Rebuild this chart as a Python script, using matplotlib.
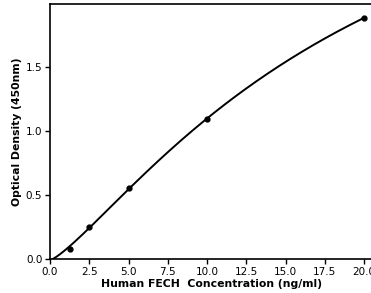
import matplotlib
matplotlib.use("Agg")
import matplotlib.pyplot as plt
import numpy as np

# ---------- Data ----------
concentration = [1.25, 2.5, 5.0, 10.0, 20.0]
od450 = [0.078, 0.25, 0.555, 1.09, 1.885]
# blank well, used in the fit but not drawn
blankConc = 0.0
blankOD = 0.0

xTicks = [0.0, 2.5, 5.0, 7.5, 10.0, 12.5, 15.0, 17.5, 20.0]
yTicks = [0.0, 0.5, 1.0, 1.5]


# ---------- 4PL fit (small Levenberg-Marquardt) ----------
def fourPL(x, p):
    a, b, c, d = p
    return d + (a - d) / (1.0 + (np.abs(x) / c) ** b)


def fit4PL(x, y, p):
    x = np.asarray(x, float)
    y = np.asarray(y, float)
    p = np.asarray(p, float)
    lam = 1e-3
    for _ in range(500):
        r = y - fourPL(x, p)
        J = np.zeros((len(x), len(p)))
        for k in range(len(p)):
            dp = np.zeros_like(p)
            dp[k] = 1e-6 * max(1.0, abs(p[k]))
            J[:, k] = (fourPL(x, p + dp) - fourPL(x, p)) / dp[k]
        A = J.T @ J
        g = J.T @ r
        step = np.linalg.solve(A + lam * np.diag(np.diag(A) + 1e-12), g)
        pNew = p + step
        if pNew[2] > 0 and pNew[1] > 0 and np.sum((y - fourPL(x, pNew)) ** 2) < np.sum(r ** 2):
            p = pNew
            lam *= 0.3
        else:
            lam *= 10
    return p


params = fit4PL([blankConc] + concentration, [blankOD] + od450, [0.0, 1.3, 15.0, 3.0])
xs = np.linspace(0, 20, 300)
ys = fourPL(xs, params)

# ---------- Plot ----------
fig = plt.figure(figsize=(3.71, 2.93), dpi=100)
ax = fig.add_axes([0.1348, 0.116, 0.868, 0.870])
ax.plot(xs, ys, color="black", lw=1.4)
ax.plot(concentration, od450, "o", color="black", ms=3.5)

ax.set_xlim(0, 20.5)
ax.set_ylim(0, 1.99)
ax.set_xticks(xTicks)
ax.set_yticks(yTicks)
ax.tick_params(labelsize=7.5, width=1, length=3.5, pad=2)
for s in ax.spines.values():
    s.set_linewidth(1.2)

ax.set_xlabel("Human FECH  Concentration (ng/ml)", fontsize=7.8, fontweight="bold", labelpad=2)
ax.set_ylabel("Optical Density (450nm)", fontsize=7.8, fontweight="bold", labelpad=2.5)

fig.savefig("out.png", dpi=100)
